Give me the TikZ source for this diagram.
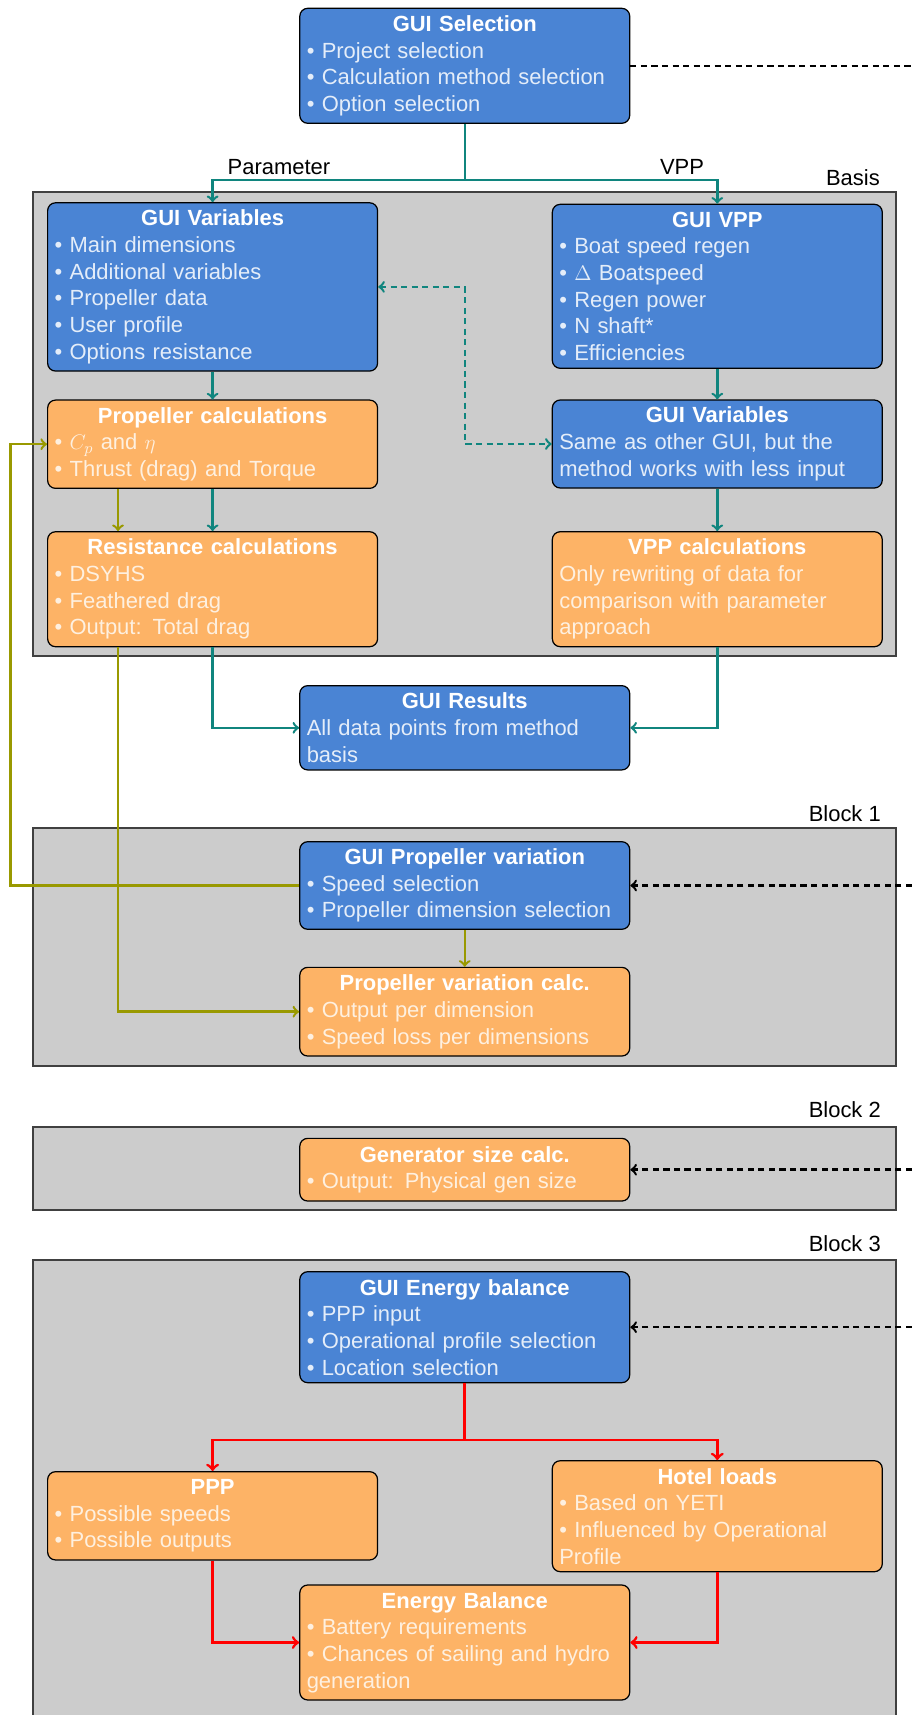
\documentclass[tikz,border=0pt]{standalone}
\usepackage{amsmath}
\usepackage{fontspec}
\setmainfont{Liberation Sans}
\usepackage{tikz}

\definecolor{guiblue}{HTML}{4A84D4}
\definecolor{calcorange}{HTML}{FDB366}
\definecolor{framegray}{HTML}{CCCCCC}
\definecolor{linkteal}{HTML}{10857E}
\definecolor{linkolive}{HTML}{999900}
\newcommand{\boxhead}[1]{\hfill{\color{white}\bfseries #1}\hfill\null\\}
\newcommand{\itm}{\textbullet\ }

\begin{document}
\begin{tikzpicture}[x=0.02cm,y=-0.02cm,>=to,
        every node/.style={font=\fontsize{12.5pt}{15.2pt}\selectfont},
        flowbox/.style={draw=black,line width=0.7pt,rounded corners=4.5pt,text width=6.32cm,inner xsep=0.14cm,inner ysep=2pt,align=left},
        guibox/.style={flowbox,fill=guiblue,text=white!85!guiblue},
        calcbox/.style={flowbox,fill=calcorange,text=white!80!calcorange},
        blockframe/.style={draw=black!75,line width=1pt,fill=framegray,minimum width=17.26cm,inner sep=0pt},
        flowteal/.style={draw=linkteal,line width=1.4pt},
        flowolive/.style={draw=linkolive,line width=1.4pt},
        flowred/.style={draw=red,line width=1.6pt},
        linkdash/.style={draw=linkteal,line width=1.4pt,dash pattern=on 3.5pt off 2.5pt},
        inputdash/.style={draw=black,line width=1.4pt,dash pattern=on 3.5pt off 2.5pt}]
    \useasboundingbox (0,0) rectangle (912,1715);

    % gray blocks
    \node[blockframe,minimum height=9.28cm] (basis) at (464.5,424) {};
    \node[blockframe,minimum height=4.76cm] (block1) at (464.5,946.7) {};
    \node[blockframe,minimum height=1.654cm] (block2) at (464.5,1168.65) {};
    \node[blockframe,minimum height=9.3cm] (block3) at (464.5,1492.5) {};
    \node[anchor=base east] (basislbl) at (886,185) {Basis};
    \node[anchor=base east] (block1lbl) at (887,821) {Block 1};
    \node[anchor=base east] (block2lbl) at (887,1117.2) {Block 2};
    \node[anchor=base east] (block3lbl) at (887,1251.2) {Block 3};

    % basis
    \node[guibox,minimum height=2.3cm] (sel) at (464.75,65.8) {\boxhead{GUI Selection}\itm Project selection\\ \itm Calculation method selection\\ \itm Option selection};
    \node[guibox,minimum height=3.366cm] (varL) at (212.6,286.9) {\boxhead{GUI Variables}\itm Main dimensions\\ \itm Additional variables\\ \itm Propeller data\\ \itm User profile\\ \itm Options resistance};
    \node[guibox,minimum height=3.28cm] (vpp) at (717.3,286.3) {\boxhead{GUI VPP}\itm Boat speed regen\\ \itm $\Delta$ Boatspeed\\ \itm Regen power\\ \itm N shaft*\\ \itm Efficiencies};
    \node[calcbox,minimum height=1.766cm] (prop) at (212.6,444.2) {\boxhead{Propeller calculations}\itm $C_p$ and $\eta$\\ \itm Thrust (drag) and Torque};
    \node[guibox,minimum height=1.76cm] (varR) at (717.3,444) {\boxhead{GUI Variables}Same as other GUI, but the\\ method works with less input};
    \node[calcbox,minimum height=2.3cm] (res) at (212.6,589.2) {\boxhead{Resistance calculations}\itm DSYHS\\ \itm Feathered drag\\ \itm Output: Total drag};
    \node[calcbox,minimum height=2.3cm] (vppcalc) at (717.3,589.2) {\boxhead{VPP calculations}Only rewriting of data for\\ comparison with parameter\\ approach};
    \node[guibox,minimum height=1.686cm] (results) at (464.75,727.8) {\boxhead{GUI Results}All data points from method\\ basis};

    % block 1, 2, 3
    \node[guibox,minimum height=1.752cm] (propvar) at (464.75,885.5) {\boxhead{GUI Propeller variation}\itm Speed selection\\ \itm Propeller dimension selection};
    \node[calcbox,minimum height=1.774cm] (propvarcalc) at (464.75,1011.7) {\boxhead{Propeller variation calc.}\itm Output per dimension\\ \itm Speed loss per dimensions};
    \node[calcbox,minimum height=1.254cm] (gen) at (464.75,1169.7) {\boxhead{Generator size calc.}\itm Output: Physical gen size};
    \node[guibox,minimum height=2.22cm] (energygui) at (464.75,1327.2) {\boxhead{GUI Energy balance}\itm PPP input\\ \itm Operational profile selection\\ \itm Location selection};
    \node[calcbox,minimum height=1.766cm] (ppp) at (212.6,1515.8) {\boxhead{PPP}\itm Possible speeds\\ \itm Possible outputs};
    \node[calcbox,minimum height=2.22cm] (hotel) at (717.3,1516.2) {\boxhead{Hotel loads}\itm Based on YETI\\ \itm Influenced by Operational\\ Profile};
    \node[calcbox,minimum height=2.3cm] (eb) at (464.75,1642.5) {\boxhead{Energy Balance}\itm Battery requirements\\ \itm Chances of sailing and hydro\\ generation};

    % helper points
    \coordinate (split) at (464.75,180);
    \coordinate (linkmid) at (464.75,365);
    \coordinate (olivex) at (118,0);
    \coordinate (loopx) at (10.5,600);
    \coordinate (redsplit) at (464.75,1440);
    \coordinate (rim) at (912,0);

    \node[anchor=base] (parlbl) at (279,174) {Parameter};
    \node[anchor=base] (vpplbl) at (682,174) {VPP};

    % teal flow
    \draw[flowteal] (sel.south) -- (split);
    \draw[flowteal,->] (split) -| (varL.north);
    \draw[flowteal,->] (split) -| (vpp.north);
    \draw[flowteal,->] (varL.south) -- (prop.north);
    \draw[flowteal,->] (prop.south) -- (res.north);
    \draw[flowteal,->] (vpp.south) -- (varR.north);
    \draw[flowteal,->] (varR.south) -- (vppcalc.north);
    \draw[flowteal,->] (res.south) |- (results.west);
    \draw[flowteal,->] (vppcalc.south) |- (results.east);
    \draw[linkdash,<->] (varL.east) -| (linkmid) |- (varR.west);

    % olive flow
    \draw[flowolive,->] (prop.south -| olivex) -- (res.north -| olivex);
    \draw[flowolive,->] (res.south -| olivex) |- (propvarcalc.west);
    \draw[flowolive,->] (propvar.west) -| (loopx) |- (prop.west);
    \draw[flowolive,->] (propvar.south) -- (propvarcalc.north);

    % red flow
    \draw[flowred] (energygui.south) -- (redsplit);
    \draw[flowred,->] (redsplit) -| (ppp.north);
    \draw[flowred,->] (redsplit) -| (hotel.north);
    \draw[flowred,->] (ppp.south) |- (eb.west);
    \draw[flowred,->] (hotel.south) |- (eb.east);

    % inputs from outside
    \draw[inputdash] (sel.east) -- (sel.east -| rim);
    \draw[inputdash,->] (propvar.east -| rim) -- (propvar.east);
    \draw[inputdash,->] (gen.east -| rim) -- (gen.east);
    \draw[inputdash,->] (energygui.east -| rim) -- (energygui.east);
\end{tikzpicture}
\end{document}
